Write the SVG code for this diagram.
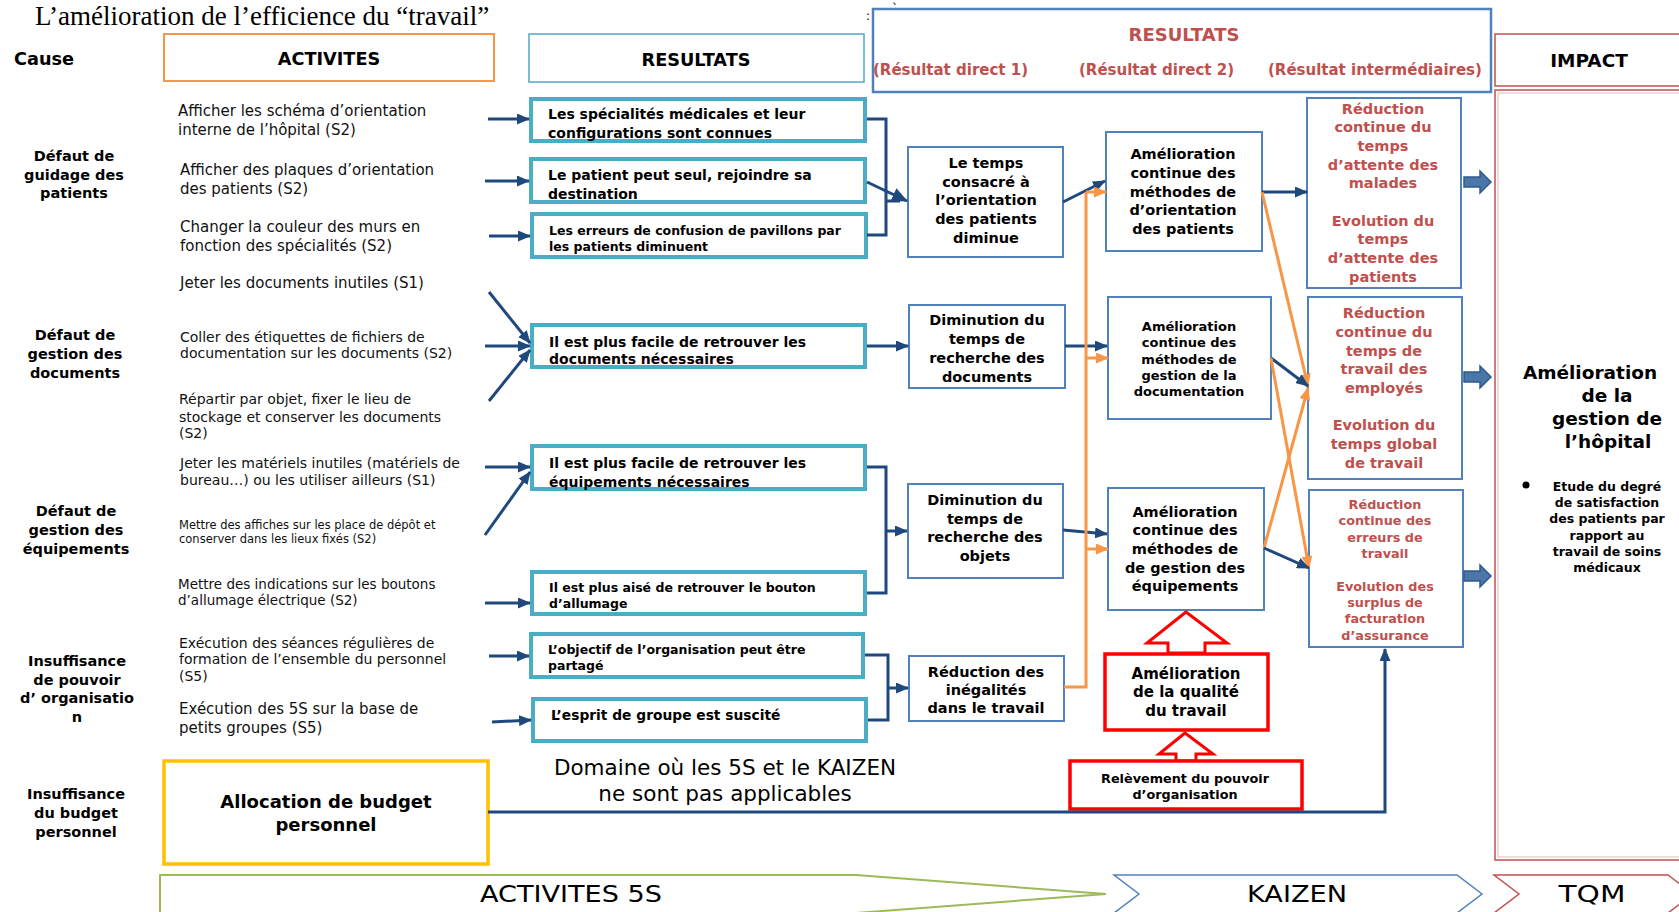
<svg xmlns="http://www.w3.org/2000/svg" width="1679" height="912" viewBox="0 0 1679 912">
<style>
  .bg{fill:#fff}
  .sans{font-family:"DejaVu Sans","Liberation Sans",sans-serif}
  .act{font-family:"DejaVu Sans","Liberation Sans",sans-serif;fill:#111}
  .cause{font-family:"DejaVu Sans","Liberation Sans",sans-serif;font-weight:bold;font-size:14.5px;fill:#000;text-anchor:middle}
  .hdr{font-family:"DejaVu Sans","Liberation Sans",sans-serif;font-weight:bold;font-size:17.7px;fill:#000;text-anchor:middle}
  .red-h{font-family:"DejaVu Sans","Liberation Sans",sans-serif;font-weight:bold;fill:#C0504D}
  .res{fill:#fff;stroke:#4BACC6;stroke-width:4}
  .res-t{font-family:"DejaVu Sans","Liberation Sans",sans-serif;font-weight:bold;font-size:14px;fill:#000}
  .mid{fill:#fff;stroke:#4F81BD;stroke-width:2}
  .mid-t{font-family:"DejaVu Sans","Liberation Sans",sans-serif;font-weight:bold;font-size:14.5px;fill:#000;text-anchor:middle}
  .int-t{font-family:"DejaVu Sans","Liberation Sans",sans-serif;font-weight:bold;font-size:14.5px;fill:#C0504D;text-anchor:middle}
  .redbox{fill:#fff;stroke:#FF0000;stroke-width:3.5}
  .blk{fill:#fff;stroke:#FF0000;stroke-width:3;stroke-linejoin:miter}
  .ln{fill:none;stroke:#1F497D;stroke-width:3}
  .or{fill:none;stroke:#F79646;stroke-width:3}
  .imp-arrow{fill:#4A76A8;stroke:#2F5A8C;stroke-width:1.5}
  .band{font-family:"DejaVu Sans","Liberation Sans",sans-serif;font-size:23px;fill:#000;text-anchor:middle}
</style>
<defs>
  <marker id="ah" markerUnits="userSpaceOnUse" markerWidth="13" markerHeight="11" refX="12" refY="5.5" orient="auto">
    <path d="M0,0 L13,5.5 L0,11 z" fill="#1F497D"/>
  </marker>
  <marker id="ahBig" markerUnits="userSpaceOnUse" markerWidth="16" markerHeight="14" refX="15" refY="7" orient="auto">
    <path d="M0,0 L16,7 L0,14 z" fill="#1F497D"/>
  </marker>
  <marker id="aho" markerUnits="userSpaceOnUse" markerWidth="13" markerHeight="11" refX="12" refY="5.5" orient="auto">
    <path d="M0,0 L13,5.5 L0,11 z" fill="#F79646"/>
  </marker>
</defs>

<rect class="bg" x="0" y="0" width="1679" height="912"/>

<!-- Title -->
<text x="35" y="25" font-family="'Liberation Serif','Times New Roman',serif" font-size="27" fill="#000">L’amélioration de l’efficience du “travail”</text>
<text x="866" y="20" class="sans" style="font-size:12px" fill="#000">:</text>
<text x="892" y="13" class="sans" style="font-size:12px" fill="#000">`</text>

<!-- Column headers -->
<g id="header-cause">
  <text x="44" y="65" class="hdr">Cause</text>
</g>
<g id="header-activites">
  <rect x="164" y="34" width="330" height="47" fill="#fff" stroke="#F79646" stroke-width="2"/>
  <text x="329" y="65" class="hdr">ACTIVITES</text>
</g>
<g id="header-resultats">
  <rect x="529" y="34" width="335" height="48" fill="#fff" stroke="#4BACC6" stroke-width="1.5"/>
  <text x="696" y="66" class="hdr">RESULTATS</text>
</g>
<g id="header-resultats-kaizen">
  <rect x="873" y="9" width="618" height="83" fill="#fff" stroke="#4F81BD" stroke-width="2.5"/>
  <text x="1184" y="41" class="red-h" style="font-size:18px" text-anchor="middle">RESULTATS</text>
  <text x="873" y="75" class="red-h" style="font-size:15px">(Résultat direct 1)</text>
  <text x="1079" y="75" class="red-h" style="font-size:15px">(Résultat direct 2)</text>
  <text x="1268" y="75" class="red-h" style="font-size:15px">(Résultat intermédiaires)</text>
</g>
<g id="header-impact">
  <rect x="1495" y="34" width="200" height="52" fill="#fff" stroke="#C0504D" stroke-width="1.5"/>
  <text x="1589" y="67" class="hdr" style="font-size:18.5px">IMPACT</text>
</g>

<!-- Causes -->
<g id="cause-guidage">
  <text class="cause"><tspan x="74" y="161">Défaut de</tspan><tspan x="74" y="179.5">guidage des</tspan><tspan x="74" y="198">patients</tspan></text>
</g>
<g id="cause-documents">
  <text class="cause"><tspan x="75" y="340">Défaut de</tspan><tspan x="75" y="359">gestion des</tspan><tspan x="75" y="378">documents</tspan></text>
</g>
<g id="cause-equipements">
  <text class="cause"><tspan x="76" y="516">Défaut de</tspan><tspan x="76" y="535">gestion des</tspan><tspan x="76" y="554">équipements</tspan></text>
</g>
<g id="cause-organisation">
  <text class="cause"><tspan x="77" y="666">Insuffisance</tspan><tspan x="77" y="684.5">de pouvoir</tspan><tspan x="77" y="703">d’ organisatio</tspan><tspan x="77" y="722">n</tspan></text>
</g>
<g id="cause-budget">
  <text class="cause"><tspan x="76" y="799">Insuffisance</tspan><tspan x="76" y="818">du budget</tspan><tspan x="76" y="837">personnel</tspan></text>
</g>

<!-- Activities -->
<g id="act-schema">
  <text class="act" style="font-size:15px"><tspan x="178" y="116">Afficher les schéma d’orientation</tspan><tspan x="178" y="135">interne de l’hôpital (S2)</tspan></text>
</g>
<g id="act-plaques">
  <text class="act" style="font-size:15px"><tspan x="180" y="175">Afficher des plaques d’orientation</tspan><tspan x="180" y="194">des patients (S2)</tspan></text>
</g>
<g id="act-couleur">
  <text class="act" style="font-size:15px"><tspan x="180" y="232">Changer la couleur des murs en</tspan><tspan x="180" y="251">fonction des spécialités (S2)</tspan></text>
</g>
<g id="act-jeter-docs">
  <text class="act" style="font-size:15px" x="180" y="288">Jeter les documents inutiles (S1)</text>
</g>
<g id="act-etiquettes">
  <text class="act" style="font-size:14px"><tspan x="180" y="342">Coller des étiquettes de fichiers de</tspan><tspan x="180" y="358">documentation sur les documents (S2)</tspan></text>
</g>
<g id="act-repartir">
  <text class="act" style="font-size:14px"><tspan x="179" y="404">Répartir par objet, fixer le lieu de</tspan><tspan x="179" y="422">stockage et conserver les documents</tspan><tspan x="179" y="438">(S2)</tspan></text>
</g>
<g id="act-jeter-materiels">
  <text class="act" style="font-size:14px"><tspan x="180" y="468">Jeter les matériels inutiles (matériels de</tspan><tspan x="180" y="485">bureau…) ou les utiliser ailleurs (S1)</tspan></text>
</g>
<g id="act-affiches">
  <text class="act" style="font-size:11.5px"><tspan x="179" y="529">Mettre des affiches sur les place de dépôt et</tspan><tspan x="179" y="543">conserver dans les lieux fixés (S2)</tspan></text>
</g>
<g id="act-indications">
  <text class="act" style="font-size:13.5px"><tspan x="178" y="589">Mettre des indications sur les boutons</tspan><tspan x="178" y="605">d’allumage électrique (S2)</tspan></text>
</g>
<g id="act-formation">
  <text class="act" style="font-size:14px"><tspan x="179" y="648">Exécution des séances régulières de</tspan><tspan x="179" y="664">formation de l’ensemble du personnel</tspan><tspan x="179" y="681">(S5)</tspan></text>
</g>
<g id="act-petits-groupes">
  <text class="act" style="font-size:15px"><tspan x="179" y="714">Exécution des 5S sur la base de</tspan><tspan x="179" y="733">petits groupes (S5)</tspan></text>
</g>
<g id="act-budget">
  <rect x="164" y="761" width="324" height="103" fill="#fff" stroke="#FFC000" stroke-width="3.5"/>
  <text class="sans" font-weight="bold" style="font-size:18px" text-anchor="middle"><tspan x="326" y="808">Allocation de budget</tspan><tspan x="326" y="831">personnel</tspan></text>
</g>

<!-- Direct results of the activities -->
<g id="res-specialites">
  <rect class="res" x="531" y="99" width="334" height="42"/>
  <text class="res-t"><tspan x="548" y="119">Les spécialités médicales et leur</tspan><tspan x="548" y="138">configurations sont connues</tspan></text>
</g>
<g id="res-destination">
  <rect class="res" x="531" y="159" width="334" height="43"/>
  <text class="res-t"><tspan x="548" y="180">Le patient peut seul, rejoindre sa</tspan><tspan x="548" y="199">destination</tspan></text>
</g>
<g id="res-pavillons">
  <rect class="res" x="532" y="214" width="334" height="43"/>
  <text class="res-t" style="font-size:12.5px"><tspan x="549" y="234.5">Les erreurs de confusion de pavillons par</tspan><tspan x="549" y="250.5">les patients diminuent</tspan></text>
</g>
<g id="res-documents">
  <rect class="res" x="532" y="325" width="333" height="42"/>
  <text class="res-t"><tspan x="549" y="347">Il est plus facile de retrouver les</tspan><tspan x="549" y="364">documents nécessaires</tspan></text>
</g>
<g id="res-equipements">
  <rect class="res" x="532" y="446" width="333" height="43"/>
  <text class="res-t"><tspan x="549" y="468">Il est plus facile de retrouver les</tspan><tspan x="549" y="487">équipements nécessaires</tspan></text>
</g>
<g id="res-bouton">
  <rect class="res" x="532" y="572" width="333" height="42"/>
  <text class="res-t" style="font-size:12.5px"><tspan x="549" y="592">Il est plus aisé de retrouver le bouton</tspan><tspan x="549" y="608">d’allumage</tspan></text>
</g>
<g id="res-objectif">
  <rect class="res" x="531" y="634" width="332" height="43"/>
  <text class="res-t" style="font-size:12.5px"><tspan x="548" y="654">L’objectif de l’organisation peut être</tspan><tspan x="548" y="670">partagé</tspan></text>
</g>
<g id="res-esprit">
  <rect class="res" x="533" y="699" width="333" height="42"/>
  <text class="res-t" style="font-size:13.8px" x="551" y="720">L’esprit de groupe est suscité</text>
</g>

<text class="sans" style="font-size:21.5px" text-anchor="middle" fill="#000"><tspan x="725" y="775">Domaine où les 5S et le KAIZEN</tspan><tspan x="725" y="801">ne sont pas applicables</tspan></text>

<!-- Direct result 1 -->
<g id="d1-orientation">
  <rect class="mid" x="908" y="147" width="155" height="110"/>
  <text class="mid-t"><tspan x="986" y="168">Le temps</tspan><tspan x="986" y="187">consacré à</tspan><tspan x="986" y="205">l’orientation</tspan><tspan x="986" y="224">des patients</tspan><tspan x="986" y="243">diminue</tspan></text>
</g>
<g id="d1-documents">
  <rect class="mid" x="909" y="305" width="156" height="83"/>
  <text class="mid-t"><tspan x="987" y="325">Diminution du</tspan><tspan x="987" y="344">temps de</tspan><tspan x="987" y="363">recherche des</tspan><tspan x="987" y="382">documents</tspan></text>
</g>
<g id="d1-objets">
  <rect class="mid" x="908" y="484" width="155" height="94"/>
  <text class="mid-t"><tspan x="985" y="505">Diminution du</tspan><tspan x="985" y="524">temps de</tspan><tspan x="985" y="542">recherche des</tspan><tspan x="985" y="561">objets</tspan></text>
</g>
<g id="d1-inegalites">
  <rect class="mid" x="909" y="656" width="155" height="65"/>
  <text class="mid-t"><tspan x="986" y="677">Réduction des</tspan><tspan x="986" y="695">inégalités</tspan><tspan x="986" y="713">dans le travail</tspan></text>
</g>

<!-- Direct result 2 -->
<g id="d2-orientation">
  <rect class="mid" x="1106" y="132" width="156" height="119"/>
  <text class="mid-t"><tspan x="1183" y="159">Amélioration</tspan><tspan x="1183" y="178">continue des</tspan><tspan x="1183" y="197">méthodes de</tspan><tspan x="1183" y="215">d’orientation</tspan><tspan x="1183" y="234">des patients</tspan></text>
</g>
<g id="d2-documentation">
  <rect class="mid" x="1108" y="297" width="163" height="122"/>
  <text class="mid-t" style="font-size:13px"><tspan x="1189" y="330.5">Amélioration</tspan><tspan x="1189" y="346.5">continue des</tspan><tspan x="1189" y="363.5">méthodes de</tspan><tspan x="1189" y="379.5">gestion de la</tspan><tspan x="1189" y="395.5">documentation</tspan></text>
</g>
<g id="d2-equipements">
  <rect class="mid" x="1108" y="488" width="156" height="122"/>
  <text class="mid-t"><tspan x="1185" y="517">Amélioration</tspan><tspan x="1185" y="535">continue des</tspan><tspan x="1185" y="554">méthodes de</tspan><tspan x="1185" y="573">de gestion des</tspan><tspan x="1185" y="591">équipements</tspan></text>
</g>
<g id="d2-qualite">
  <path class="blk" d="M1186,612 L1227,643 L1205,643 L1205,653 L1168,653 L1168,643 L1147,643 Z"/>
  <rect class="redbox" x="1105" y="654" width="163" height="76"/>
  <text class="mid-t" style="font-size:15px"><tspan x="1186" y="679">Amélioration</tspan><tspan x="1186" y="697">de la qualité</tspan><tspan x="1186" y="716">du travail</tspan></text>
</g>
<g id="d2-pouvoir">
  <path class="blk" d="M1185,733 L1213,754 L1196,754 L1196,761 L1176,761 L1176,754 L1159,754 Z"/>
  <rect class="redbox" x="1070" y="761" width="232" height="48"/>
  <text class="mid-t" style="font-size:12.8px"><tspan x="1185" y="782.5">Relèvement du pouvoir</tspan><tspan x="1185" y="798.5">d’organisation</tspan></text>
</g>

<!-- Intermediate results -->
<g id="int-attente">
  <rect class="mid" x="1307" y="98" width="154" height="190"/>
  <text class="int-t"><tspan x="1383" y="114">Réduction</tspan><tspan x="1383" y="132">continue du</tspan><tspan x="1383" y="151">temps</tspan><tspan x="1383" y="170">d’attente des</tspan><tspan x="1383" y="188">malades</tspan><tspan x="1383" y="226">Evolution du</tspan><tspan x="1383" y="244">temps</tspan><tspan x="1383" y="263">d’attente des</tspan><tspan x="1383" y="282">patients</tspan></text>
</g>
<g id="int-travail">
  <rect class="mid" x="1308" y="297" width="154" height="182"/>
  <text class="int-t"><tspan x="1384" y="318">Réduction</tspan><tspan x="1384" y="337">continue du</tspan><tspan x="1384" y="356">temps de</tspan><tspan x="1384" y="374">travail des</tspan><tspan x="1384" y="393">employés</tspan><tspan x="1384" y="430">Evolution du</tspan><tspan x="1384" y="449">temps global</tspan><tspan x="1384" y="468">de travail</tspan></text>
</g>
<g id="int-erreurs">
  <rect class="mid" x="1309" y="490" width="154" height="157"/>
  <text class="int-t" style="font-size:12.8px"><tspan x="1385" y="508.5">Réduction</tspan><tspan x="1385" y="524.5">continue des</tspan><tspan x="1385" y="541.5">erreurs de</tspan><tspan x="1385" y="557.5">travail</tspan><tspan x="1385" y="590.5">Evolution des</tspan><tspan x="1385" y="606.5">surplus de</tspan><tspan x="1385" y="622.5">facturation</tspan><tspan x="1385" y="639.5">d’assurance</tspan></text>
</g>

<!-- Impact -->
<g id="impact">
  <rect x="1495" y="90" width="200" height="770" fill="#fff" stroke="#C0504D" stroke-width="1.5"/>
  <rect x="1498" y="93" width="200" height="764" fill="none" stroke="#E6B9B8" stroke-width="1"/>
  <text class="mid-t" style="font-size:18.5px"><tspan x="1590" y="379">Amélioration</tspan><tspan x="1607" y="402">de la</tspan><tspan x="1607" y="425">gestion de</tspan><tspan x="1608" y="448">l’hôpital</tspan></text>
  <circle cx="1526" cy="485" r="3.5" fill="#000"/>
  <text class="mid-t" style="font-size:12.5px"><tspan x="1607" y="490.5">Etude du degré</tspan><tspan x="1607" y="506.5">de satisfaction</tspan><tspan x="1607" y="522.5">des patients par</tspan><tspan x="1607" y="539.5">rapport au</tspan><tspan x="1607" y="555.5">travail de soins</tspan><tspan x="1607" y="571.5">médicaux</tspan></text>
</g>

<!-- Connectors -->
<g id="connectors">
  <!-- activities to results -->
  <line class="ln" x1="488" y1="119" x2="529" y2="119" marker-end="url(#ah)"/>
  <line class="ln" x1="485" y1="181" x2="529" y2="181" marker-end="url(#ah)"/>
  <line class="ln" x1="489" y1="236" x2="530" y2="236" marker-end="url(#ah)"/>
  <line class="ln" x1="489" y1="292" x2="530" y2="343" marker-end="url(#ah)"/>
  <line class="ln" x1="485" y1="346" x2="530" y2="346" marker-end="url(#ah)"/>
  <line class="ln" x1="489" y1="401" x2="530" y2="350" marker-end="url(#ah)"/>
  <line class="ln" x1="485" y1="467" x2="530" y2="467" marker-end="url(#ah)"/>
  <line class="ln" x1="485" y1="535" x2="530" y2="472" marker-end="url(#ah)"/>
  <line class="ln" x1="485" y1="603" x2="530" y2="603" marker-end="url(#ah)"/>
  <line class="ln" x1="489" y1="656" x2="529" y2="656" marker-end="url(#ah)"/>
  <line class="ln" x1="492" y1="722" x2="531" y2="720" marker-end="url(#ah)"/>

  <!-- results to direct result 1 -->
  <polyline class="ln" points="867,119 886,119 886,235 867,235"/>
  <line class="ln" x1="886" y1="201" x2="900" y2="201"/>
  <line class="ln" x1="867" y1="182" x2="907" y2="201" marker-end="url(#ahBig)"/>
  <line class="ln" x1="867" y1="346" x2="908" y2="346" marker-end="url(#ah)"/>
  <polyline class="ln" points="867,467 886,467 886,593 867,593"/>
  <line class="ln" x1="886" y1="531" x2="907" y2="531" marker-end="url(#ah)"/>
  <polyline class="ln" points="865,655 888,655 888,720 868,720"/>
  <line class="ln" x1="888" y1="688" x2="908" y2="688" marker-end="url(#ah)"/>

  <!-- direct result 1 to direct result 2 -->
  <line class="ln" x1="1063" y1="202" x2="1105" y2="181" marker-end="url(#ah)"/>
  <line class="ln" x1="1065" y1="346" x2="1107" y2="346" marker-end="url(#ah)"/>
  <line class="ln" x1="1063" y1="530" x2="1107" y2="534" marker-end="url(#ah)"/>
  <polyline class="or" points="1064,687 1086,687 1086,192"/>
  <line class="or" x1="1086" y1="192" x2="1106" y2="192" marker-end="url(#aho)"/>
  <line class="or" x1="1086" y1="358" x2="1108" y2="358" marker-end="url(#aho)"/>
  <line class="or" x1="1086" y1="549" x2="1108" y2="549" marker-end="url(#aho)"/>

  <!-- direct result 2 to intermediate results -->
  <line class="ln" x1="1262" y1="192" x2="1307" y2="192" marker-end="url(#ah)"/>
  <line class="or" x1="1262" y1="192" x2="1308" y2="386" marker-end="url(#aho)"/>
  <line class="ln" x1="1271" y1="358" x2="1308" y2="386" marker-end="url(#ah)"/>
  <line class="or" x1="1271" y1="358" x2="1309" y2="568" marker-end="url(#aho)"/>
  <line class="or" x1="1264" y1="548" x2="1308" y2="388" marker-end="url(#aho)"/>
  <line class="ln" x1="1264" y1="548" x2="1309" y2="568" marker-end="url(#ah)"/>

  <!-- budget allocation -->
  <polyline class="ln" points="488,812 1385,812 1385,649" marker-end="url(#ah)"/>

  <!-- intermediate results to impact -->
  <path class="imp-arrow" d="M1464,177 L1480,177 L1480,171 L1491,182 L1480,193 L1480,187 L1464,187 Z"/>
  <path class="imp-arrow" d="M1464,372 L1480,372 L1480,366 L1491,377 L1480,388 L1480,382 L1464,382 Z"/>
  <path class="imp-arrow" d="M1464,571 L1480,571 L1480,565 L1491,576 L1480,587 L1480,581 L1464,581 Z"/>
</g>

<!-- Approach bands -->
<g id="band-5s">
  <polygon points="160,875 856,875 1106,894 856,913 160,913" fill="#fff" stroke="#9BBB59" stroke-width="2"/>
  <text class="band" x="571" y="902" textLength="182" lengthAdjust="spacingAndGlyphs">ACTIVITES 5S</text>
</g>
<g id="band-kaizen">
  <polygon points="1114,875 1457,875 1482,894 1457,913 1114,913 1139,894" fill="#fff" stroke="#4F81BD" stroke-width="1.5"/>
  <text class="band" x="1297" y="902" textLength="100" lengthAdjust="spacingAndGlyphs">KAIZEN</text>
</g>
<g id="band-tqm">
  <polygon points="1494,875 1668,875 1693,894 1668,913 1494,913 1519,894" fill="#fff" stroke="#C0504D" stroke-width="1.5"/>
  <text class="band" x="1592" y="902" textLength="67" lengthAdjust="spacingAndGlyphs">TQM</text>
</g>
</svg>
